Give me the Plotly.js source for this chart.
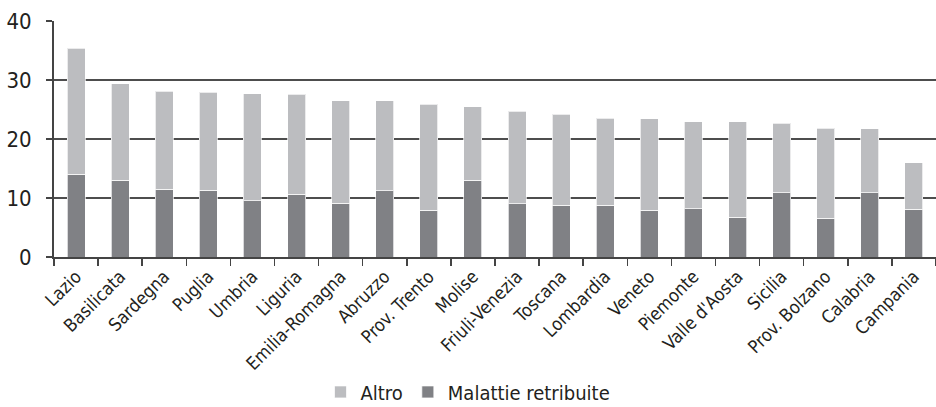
<!DOCTYPE html>
<html>
<head>
<meta charset="utf-8">
<script src="https://cdn.plot.ly/plotly-3.0.1.min.js"></script>
<style>html,body{margin:0;padding:0;background:#fff;}#chart{width:936px;height:407px;}</style>
</head>
<body>
<div id="chart"></div>
<script>
const regions = ["Lazio","Basilicata","Sardegna","Puglia","Umbria","Liguria","Emilia-Romagna","Abruzzo","Prov. Trento","Molise","Friuli-Venezia","Toscana","Lombardia","Veneto","Piemonte","Valle d'Aosta","Sicilia","Prov. Bolzano","Calabria","Campania"];
const malattie = [14.0,13.0,11.5,11.3,9.5,10.6,9.1,11.2,7.9,13.0,9.0,8.8,8.8,7.9,8.15,6.7,10.9,6.6,10.9,8.1];
const altro = [21.4,16.4,16.6,16.6,18.2,17.0,17.4,15.3,18.0,12.5,15.7,15.4,14.7,15.5,14.75,16.2,11.75,15.2,10.8,7.9];
const yTicks = [0,10,20,30,40];

const FONT = "'DejaVu Sans Condensed','Liberation Sans Narrow',sans-serif";
const traces = [
  {type:'bar', name:'Altro', x:regions, y:altro, marker:{color:'#bcbdc0', line:{color:'rgba(255,255,255,0.7)', width:1}}},
  {type:'bar', name:'Malattie retribuite', x:regions, y:malattie, marker:{color:'#808185', line:{color:'rgba(255,255,255,0.7)', width:1}}}
];
const data = [traces[1], traces[0]];
const layout = {
  width:936, height:407,
  margin:{l:54, r:0, t:21, b:150, pad:0},
  barmode:'stack', bargap:0.59,
  paper_bgcolor:'#fff', plot_bgcolor:'#fff',
  font:{family:FONT, color:'#231f20', size:19},
  showlegend:true,
  legend:{orientation:'h', xref:'container', x:0.5, xanchor:'center', yref:'container', y:0.037, yanchor:'middle', traceorder:'reversed', font:{size:20}, itemwidth:30},
  xaxis:{type:'category', tickangle:-45, tickson:'boundaries', ticks:'outside', ticklen:7, tickcolor:'#444', tickwidth:1.5, showline:true, linecolor:'#444', linewidth:2, showgrid:false, tickfont:{size:18}},
  yaxis:{range:[0,40], tickvals:yTicks, ticks:'outside', ticklen:6, tickcolor:'#444', tickwidth:2, showline:true, linecolor:'#444', linewidth:2, showgrid:true, gridcolor:'#4d4d4d', gridwidth:2, zeroline:false, tickfont:{size:22}, ticklabelstandoff:10}
};
Plotly.newPlot('chart', data, layout, {displayModeBar:false, staticPlot:true});
</script>
</body>
</html>
